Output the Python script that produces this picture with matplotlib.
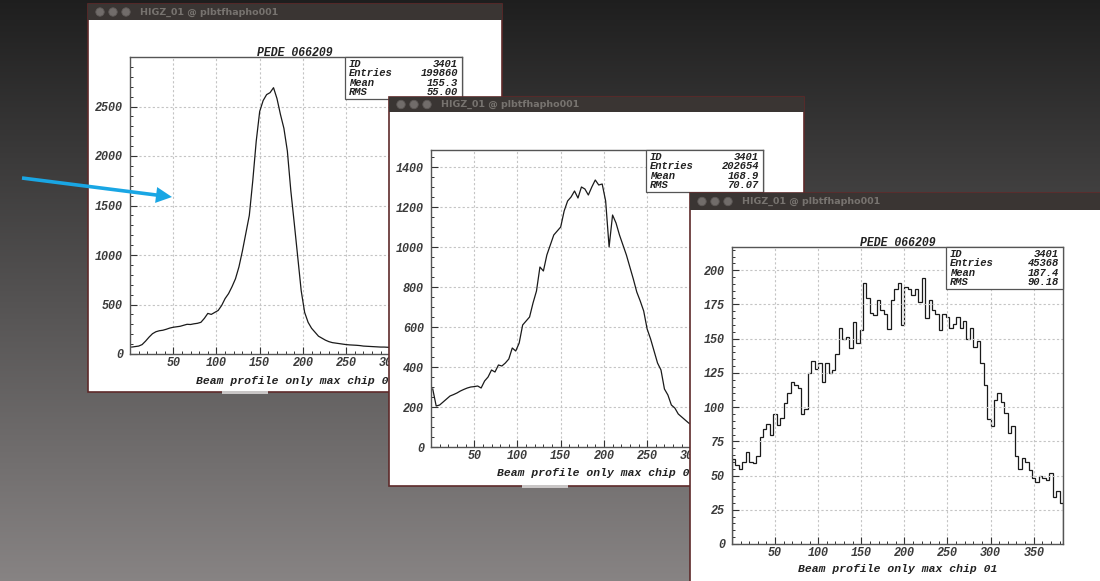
import numpy as np
import matplotlib
matplotlib.use("Agg")
import matplotlib.pyplot as plt
from matplotlib import transforms
from matplotlib.patches import Rectangle, Circle, FancyArrow
from matplotlib.ticker import MultipleLocator, FixedLocator

W, H = 1100, 581

# ---------------------------------------------------------------- data
# 384 channels, grouped into bins of 4 channels
bin_edges = np.arange(0, 385, 4)
bin_centers = (bin_edges[:-1] + bin_edges[1:]) / 2

counts_run1 = [
    70, 75, 80, 95, 130, 170, 205, 225, 235, 240, 250, 262,
    270, 275, 280, 290, 300, 298, 305, 310, 320, 360, 410, 400,
    420, 440, 490, 560, 610, 680, 760, 880, 1040, 1220, 1400, 1750,
    2150, 2450, 2560, 2620, 2640, 2690, 2580, 2420, 2280, 2050, 1650, 1320,
    980, 640, 420, 320, 260, 220, 180, 160, 140, 125, 115, 110,
    105, 100, 95, 92, 90, 88, 85, 80, 78, 76, 74, 72,
    70, 70, 68, 66, 64, 63, 62, 60, 60, 58, 57, 56,
    55, 55, 54, 52, 52, 50, 50, 48, 48, 46, 45, 44,
]

counts_run2 = [
    290, 205, 210, 225, 240, 255, 262, 270, 280, 288, 295, 300,
    302, 305, 295, 330, 350, 385, 375, 410, 405, 420, 440, 495,
    480, 520, 610, 630, 650, 720, 780, 900, 880, 960, 1010, 1060,
    1080, 1100, 1180, 1230, 1250, 1280, 1245, 1300, 1290, 1260, 1300, 1335,
    1310, 1315, 1230, 1000, 1160, 1120, 1060, 1010, 960, 900, 840, 775,
    730, 680, 590, 540, 480, 420, 385, 290, 260, 210, 195, 165,
    150, 135, 120, 110, 100, 92, 85, 80, 75, 70, 66, 62,
    58, 55, 52, 50, 48, 46, 44, 42, 40, 38, 36, 34,
]

counts_run3 = [
    62, 58, 55, 60, 67, 60, 59, 64, 78, 84, 88, 80,
    95, 87, 92, 103, 110, 118, 116, 114, 95, 99, 125, 134,
    128, 132, 118, 132, 125, 127, 139, 158, 150, 151, 143, 162,
    147, 156, 191, 180, 169, 167, 178, 171, 168, 157, 178, 186,
    191, 160, 188, 186, 182, 186, 177, 194, 165, 178, 171, 168,
    156, 168, 166, 158, 161, 166, 158, 163, 150, 158, 144, 148,
    132, 116, 91, 86, 105, 110, 104, 96, 81, 86, 64, 55,
    63, 60, 54, 48, 45, 50, 48, 47, 52, 34, 39, 30,
]

stat_names = ["ID", "Entries", "Mean", "RMS"]
stats_run1 = ["3401", "199860", "155.3", "55.00"]
stats_run2 = ["3401", "202654", "168.9", "70.07"]
stats_run3 = ["3401", "45368", "187.4", "90.18"]

y_ticks_run1 = [0, 500, 1000, 1500, 2000, 2500]
y_ticks_run2 = [0, 200, 400, 600, 800, 1000, 1200, 1400]
y_ticks_run3 = [0, 25, 50, 75, 100, 125, 150, 175, 200]
x_ticks = [50, 100, 150, 200, 250, 300, 350]

hist_title = "PEDE 066209"
x_title = "Beam profile only max chip 01"
window_title = "HIGZ_01 @ plbtfhapho001"

# ---------------------------------------------------------------- figure
fig = plt.figure(figsize=(W / 100, H / 100), dpi=100)
pix = transforms.Affine2D().scale(1 / W, -1 / H).translate(0, 1) + fig.transFigure


def rect(x0, y0, x1, y1):
    return [x0 / W, 1 - y1 / H, (x1 - x0) / W, (y1 - y0) / H]


# slide background: vertical grey gradient
bg = fig.add_axes([0, 0, 1, 1])
bg.set_axis_off()
t = np.linspace(0, 1, 400)[:, None]
top = np.array([0.12, 0.12, 0.12])
bot = np.array([0.53, 0.515, 0.515])
grad = top + (bot - top) * t[:, :, None]
grad = np.repeat(grad, 4, axis=1)
bg.imshow(grad, aspect="auto", extent=[0, 1, 0, 1], interpolation="bilinear")
bg.set_xlim(0, 1)
bg.set_ylim(0, 1)

mono = dict(family="Liberation Mono", style="italic", weight="bold")


def window(x0, y0, x1, y1, bar_h, bottom_tab):
    ov = fig.add_axes([0, 0, 1, 1])
    ov.set_axis_off()
    ov.patch.set_alpha(0)
    ov.set_xlim(0, W)
    ov.set_ylim(H, 0)
    ov.add_patch(Rectangle((x0, y0), x1 - x0, y1 - y0, facecolor="white",
                           edgecolor="#5e2a2a", lw=1.2))
    ov.add_patch(Rectangle((x0, y0), x1 - x0, bar_h, facecolor="#3a3533",
                           edgecolor="none"))
    cy = y0 + bar_h / 2
    for dx in (12, 25, 38):
        ov.add_patch(Circle((x0 + dx, cy), 4.2, facecolor="#716c6a",
                            edgecolor="#5d5856", lw=0.6))
    ov.text(x0 + 52, cy, window_title, color="#77736f", fontsize=6.8,
            family="DejaVu Sans", weight="bold", va="center", ha="left")
    if bottom_tab is not None:
        ov.add_patch(Rectangle((bottom_tab, y1 - 1.5), 46, 3,
                               facecolor="#c9c6c6", edgecolor="none"))
    return ov


def histo(px_box, counts, ymax, yticks, yminor, stats, stat_box,
          title_xy=None, label_y=None, steps=False):
    x0, y0, x1, y1 = px_box
    ax = fig.add_axes(rect(x0, y0, x1, y1))
    ax.patch.set_alpha(0)
    if steps:
        ax.stairs(counts, bin_edges, color="#1a1a1a", lw=0.9)
    else:
        ax.plot(bin_centers, counts, color="#1a1a1a", lw=0.9)
    ax.set_xlim(0, 384)
    ax.set_ylim(0, ymax)
    ax.xaxis.set_major_locator(FixedLocator(x_ticks))
    ax.xaxis.set_minor_locator(MultipleLocator(10))
    ax.yaxis.set_major_locator(FixedLocator(yticks))
    ax.yaxis.set_minor_locator(MultipleLocator(yminor))
    ax.grid(True, which="major", color="#c4c4c4", ls=(0, (2, 2)), lw=0.8)
    ax.tick_params(which="both", direction="in", top=False, right=False,
                   colors="#333333", labelsize=8.5)
    ax.tick_params(which="major", length=5, width=0.8)
    ax.tick_params(which="minor", length=2.5, width=0.7)
    ax.tick_params(axis="y", pad=5)
    ax.tick_params(axis="x", pad=2)
    for lab in ax.get_xticklabels() + ax.get_yticklabels():
        lab.set_fontfamily("Liberation Mono")
        lab.set_fontstyle("italic")
        lab.set_fontweight("bold")
        lab.set_color("#3a3a3a")
    for sp in ax.spines.values():
        sp.set_color("#555555")
        sp.set_linewidth(1.0)

    # statistics box
    bx0, by0, bx1, by1 = stat_box
    ax.add_patch(Rectangle((bx0, by0), bx1 - bx0, by1 - by0, transform=pix,
                           facecolor="white", edgecolor="#555555", lw=0.9,
                           clip_on=False, zorder=5))
    row_h = (by1 - by0 - 4) / 4
    for i, (name, val) in enumerate(zip(stat_names, stats)):
        yy = by0 + 1 + row_h * (i + 0.5)
        ax.text(bx0 + 4, yy, name, transform=pix, fontsize=7.6,
                va="center_baseline", ha="left", color="#222222", zorder=6,
                clip_on=False, **mono)
        ax.text(bx1 - 4, yy, val, transform=pix, fontsize=7.6,
                va="center_baseline", ha="right", color="#222222", zorder=6,
                clip_on=False, **mono)

    if title_xy is not None:
        ax.text(title_xy[0], title_xy[1], hist_title, transform=pix,
                fontsize=8.3, ha="center", va="center_baseline",
                color="#222222", clip_on=False, **mono)
    cx = (x0 + x1) / 2
    ax.text(cx, label_y, x_title, transform=pix, fontsize=8.2, ha="center",
            va="center_baseline", color="#222222", clip_on=False, **mono)
    return ax


# window 1
window(88, 4, 502, 392, 16, 222)
histo((130, 57, 462, 354), counts_run1, 3000, y_ticks_run1, 100,
      stats_run1, (345, 57, 462, 99), title_xy=(295, 51), label_y=380)

# window 2
window(389, 97, 804, 486, 15, 522)
histo((431, 150, 763, 447), counts_run2, 1485, y_ticks_run2, 50,
      stats_run2, (646, 150, 763, 192), label_y=472)

# window 3
window(690, 193, 1112, 590, 17, None)
histo((732, 247, 1063, 544), counts_run3, 217, y_ticks_run3, 5,
      stats_run3, (946, 247, 1063, 289), title_xy=(898, 242), label_y=568,
      steps=True)

# pointer arrow on top
top_ax = fig.add_axes([0, 0, 1, 1])
top_ax.set_axis_off()
top_ax.patch.set_alpha(0)
top_ax.set_xlim(0, W)
top_ax.set_ylim(H, 0)
top_ax.add_patch(FancyArrow(22, 178, 150, 19, width=3.6, head_width=16,
                            head_length=16, length_includes_head=True,
                            color="#19a6e4", lw=0))

fig.savefig("out.png", dpi=100)
